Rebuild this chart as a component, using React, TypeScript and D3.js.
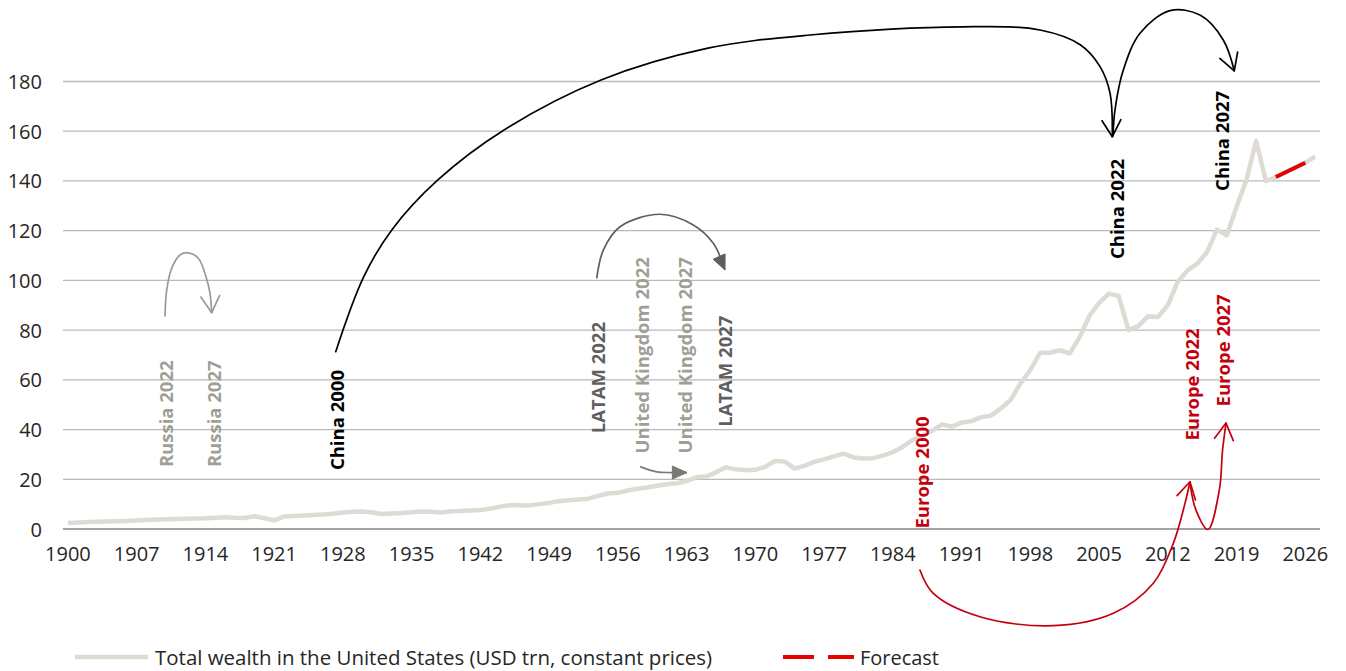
import React from 'react';
import * as d3 from 'd3';

// categories: one per year
const years: number[] = d3.range(1900, 2028);

// Total wealth in the United States (USD trn, constant prices), 1900-2027
const wealth: number[] = [
  2.5, 2.6, 2.8, 2.9, 3.0, 3.1, 3.2, 3.4, 3.6, 3.8,
  3.9, 4.0, 4.1, 4.2, 4.3, 4.5, 4.7, 4.5, 4.4, 5.1,
  4.3, 3.5, 5.0, 5.2, 5.4, 5.6, 5.8, 6.1, 6.6, 6.9,
  7.0, 6.6, 6.0, 6.2, 6.4, 6.7, 7.0, 6.9, 6.6, 7.1,
  7.2, 7.4, 7.6, 8.2, 9.0, 9.6, 9.6, 9.5, 10.0, 10.5,
  11.2, 11.6, 11.9, 12.2, 13.3, 14.3, 14.6, 15.5, 16.2, 16.7,
  17.4, 18.0, 18.4, 19.3, 20.8, 21.1, 22.8, 24.8, 24.0, 23.6,
  23.8, 25.0, 27.4, 27.1, 24.3, 25.4, 27.0, 28.0, 29.2, 30.3,
  28.8, 28.4, 28.5, 29.5, 30.9, 33.0, 35.8, 37.5, 39.5, 42.1,
  41.2, 42.8, 43.4, 45.0, 45.6, 48.5, 51.9, 58.6, 63.9, 70.9,
  70.9, 71.9, 70.6, 77.0, 85.6, 90.9, 94.7, 93.7, 80.0, 81.6,
  85.6, 85.3, 90.0, 99.3, 104.0, 106.7, 111.4, 120.4, 118.1, 129.5,
  140.3, 156.1, 139.9, 141.6, 143.5, 145.4, 147.3, 149.9,
];

const forecastYears: number[] = [2023, 2024, 2025, 2026];
const forecast: number[] = [141.6, 143.5, 145.4, 147.3];

const yTicks: number[] = [0, 20, 40, 60, 80, 100, 120, 140, 160, 180];
const xTickYears: number[] = [1900, 1907, 1914, 1921, 1928, 1935, 1942, 1949, 1956, 1963, 1970, 1977, 1984, 1991, 1998, 2005, 2012, 2019, 2026];

// annotation labels, anchored at [year, value] (bottom end of the rotated text)
const labelText: string[] = ['Russia 2022', 'Russia 2027', 'China 2000', 'LATAM 2022', 'United Kingdom 2022', 'United Kingdom 2027', 'LATAM 2027', 'Europe 2000', 'Europe 2022', 'Europe 2027', 'China 2022', 'China 2027'];
const labelYear: number[] = [1909.9, 1914.8, 1927.4, 1953.9, 1958.4, 1962.8, 1966.9, 1986.9, 2014.4, 2017.6, 2006.8, 2017.5];
const labelValue: number[] = [24.9, 24.9, 23.7, 38.5, 30.4, 30.4, 41.1, 0.2, 35.6, 49.3, 108.6, 136.0];
const labelGroup: string[] = ['russia', 'russia', 'china', 'latam', 'uk', 'uk', 'latam', 'europe', 'europe', 'europe', 'china', 'china'];

// arrows through [year, value] points
const russiaArrow: [number, number][] = [[1909.89, 85.7], [1910.06, 96.1], [1910.57, 104.9], [1911.41, 110.2], [1912.26, 111.1], [1913.28, 108.9], [1914.06, 101.5], [1914.47, 94.8], [1914.64, 87.0]];
const chinaArrow1: [number, number][] = [[1927.27, 71.3], [1930.13, 101.5], [1932.98, 120.3], [1937.67, 140.4], [1944.41, 160.5], [1954.29, 180.6], [1965.18, 193.4], [1975.57, 198.7], [1991.15, 202.0], [1998.99, 200.7], [2003.12, 194.7], [2005.1, 186.0], [2006.12, 175.3], [2006.35, 157.8]];
const chinaArrow2: [number, number][] = [[2006.42, 158.1], [2006.62, 168.5], [2007.47, 184.6], [2009.17, 199.4], [2012.23, 208.5], [2015.28, 206.7], [2017.65, 196.7], [2018.77, 184.3]];
const latamArrow: [number, number][] = [[1953.85, 100.8], [1954.52, 112.2], [1956.22, 121.6], [1960.29, 126.6], [1963.68, 122.3], [1965.72, 114.9], [1966.91, 104.2]];
const ukArrow: [number, number][] = [[1958.27, 25.1], [1959.96, 23.0], [1961.41, 22.7], [1963.04, 22.7]];
const europeArrow1: [number, number][] = [[1986.76, -16.5], [1988.12, -25.9], [1992.87, -35.3], [2000.34, -38.9], [2006.45, -33.9], [2010.53, -21.8], [2012.56, -5.8], [2013.75, 10.3], [2014.26, 19.0]];
const europeArrow2: [number, number][] = [[2014.26, 18.5], [2014.87, 7.6], [2016.09, -0.2], [2017.25, 15.7], [2017.58, 31.8], [2017.93, 42.6]];

const colors: Record<string, string> = {
  russia: '#a09f95',
  uk: '#a09f95',
  latam: '#5f5f5f',
  china: '#000000',
  europe: '#c4000f',
};

const W = 1346;
const H = 671;
const margin = { top: 81.5, right: 26, bottom: 142, left: 63 };
const font = '"Open Sans", "DejaVu Sans", sans-serif';

export default function App() {
  const x = d3.scaleBand<number>()
    .domain(years)
    .range([margin.left, W - margin.right]);
  const bw = x.bandwidth();
  const xYear = d3.scaleLinear()
    .domain([1900, 2027])
    .range([(x(1900) as number) + bw / 2, (x(2027) as number) + bw / 2]);
  const y = d3.scaleLinear()
    .domain([0, 180])
    .range([H - margin.bottom, margin.top]);

  const line = d3.line<number>()
    .x((d, i) => (x(years[i]) as number) + bw / 2)
    .y(d => y(d));

  const fLine = d3.line<number>()
    .x((d, i) => (x(forecastYears[i]) as number) + bw / 2)
    .y(d => y(d));

  const curve = d3.line<[number, number]>()
    .x(d => xYear(d[0]))
    .y(d => y(d[1]))
    .curve(d3.curveCatmullRom.alpha(0.5));

  const head = (pts: [number, number][], len: number, half: number, closed: boolean) => {
    const a = pts[pts.length - 2];
    const b = pts[pts.length - 1];
    const tx = xYear(b[0]), ty = y(b[1]);
    const ang = Math.atan2(ty - y(a[1]), tx - xYear(a[0]));
    const w1 = [tx - len * Math.cos(ang - half), ty - len * Math.sin(ang - half)];
    const w2 = [tx - len * Math.cos(ang + half), ty - len * Math.sin(ang + half)];
    return `M${w1[0]},${w1[1]}L${tx},${ty}L${w2[0]},${w2[1]}${closed ? 'Z' : ''}`;
  };

  const openArrow = (pts: [number, number][], color: string, key: string) => (
    <g key={key} fill="none" stroke={color} strokeWidth={1.7} strokeLinecap="round" strokeLinejoin="round">
      <path d={curve(pts) as string} />
      <path d={head(pts, 19, 0.52, false)} />
    </g>
  );

  const filledArrow = (pts: [number, number][], color: string, key: string) => (
    <g key={key}>
      <path d={curve(pts) as string} fill="none" stroke={color} strokeWidth={1.7} />
      <path d={head(pts, 16, 0.42, true)} fill={color} stroke={color} strokeWidth={1} strokeLinejoin="round" />
    </g>
  );

  return (
    <svg width={W} height={H} style={{ position: 'absolute', left: 0, top: 0, background: '#fff' }} fontFamily={font}>
      {/* gridlines */}
      {yTicks.map(t => (
        <line key={t} x1={margin.left} x2={W - margin.right} y1={y(t)} y2={y(t)}
          stroke={t === 0 ? '#a3a3a3' : '#bababa'} strokeWidth={t === 0 ? 2 : 1.3} />
      ))}
      {/* y tick labels */}
      {yTicks.map(t => (
        <text key={'yl' + t} x={42} y={y(t)} textAnchor="end" dominantBaseline="central"
          fontSize={20} fill="#262626">{t}</text>
      ))}
      {/* x tick labels */}
      {xTickYears.map(yr => (
        <text key={'xl' + yr} x={(x(yr) as number) + bw / 2} y={y(0) + 32} textAnchor="middle"
          fontSize={20} fill="#262626">{yr}</text>
      ))}

      {/* wealth line */}
      <path d={line(wealth) as string} fill="none" stroke="#dddbd4" strokeWidth={4.5} strokeLinejoin="round" />
      <path d={fLine(forecast) as string} fill="none" stroke="#e60000" strokeWidth={4} />

      {/* arrows */}
      {openArrow(russiaArrow, '#9c9b91', 'ru')}
      {openArrow(chinaArrow1, '#000', 'cn1')}
      {openArrow(chinaArrow2, '#000', 'cn2')}
      {filledArrow(latamArrow, '#5f5f5f', 'la')}
      {filledArrow(ukArrow, '#7a7a72', 'uk')}
      {openArrow(europeArrow1, colors.europe, 'eu1')}
      {openArrow(europeArrow2, colors.europe, 'eu2')}

      {/* labels */}
      {labelText.map((t, i) => (
        <text key={t} transform={`translate(${xYear(labelYear[i])},${y(labelValue[i])}) rotate(-90)`}
          dominantBaseline="central" fontSize={18.5} fontWeight={700} fill={colors[labelGroup[i]]}>{t}</text>
      ))}

      {/* legend */}
      <line x1={75} x2={148} y1={657} y2={657} stroke="#dddbd4" strokeWidth={4.5} />
      <text x={155} y={665} fontSize={20} fill="#262626" textLength={557} lengthAdjust="spacingAndGlyphs">
        Total wealth in the United States (USD trn, constant prices)
      </text>
      <line x1={783} x2={854} y1={657} y2={657} stroke="#e60000" strokeWidth={4} strokeDasharray="31 14" />
      <text x={860} y={665} fontSize={20} fill="#262626" textLength={79} lengthAdjust="spacingAndGlyphs">Forecast</text>
    </svg>
  );
}
